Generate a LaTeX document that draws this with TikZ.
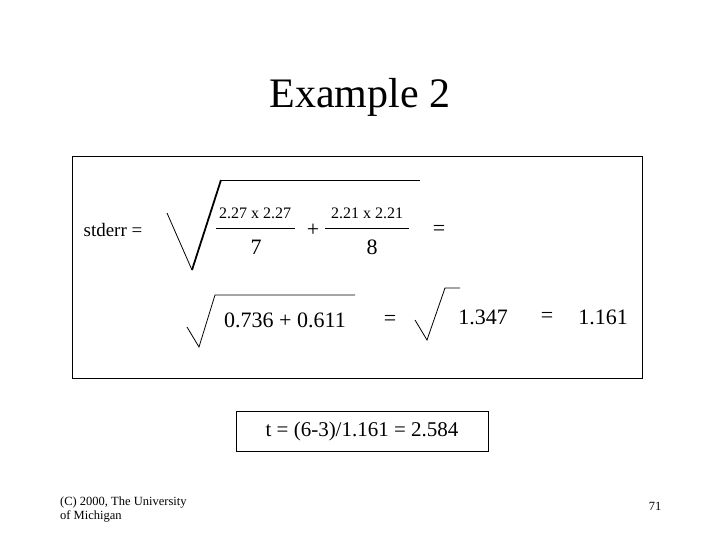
\documentclass[tikz,border=0pt]{standalone}
\usepackage{fontspec}
\setmainfont{Liberation Serif}
\begin{document}
\begin{tikzpicture}[x=1pt,y=-1pt,
  txt/.style={inner sep=0pt,font=\fontsize{22}{24}\selectfont},
  sm/.style={inner sep=0pt,font=\fontsize{16}{18}\selectfont},
  rad/.style={line width=0.8pt},
  radthick/.style={line width=1.8pt}]
\useasboundingbox (0,0) rectangle (720,540);
\node[inner sep=0pt,font=\fontsize{42}{46}\selectfont] (title) at (360,97) {Example 2};
\node[draw,line width=0.8pt,minimum width=570pt,minimum height=222pt,inner sep=0pt] (box) at (357,267) {};
\node[sm,font=\fontsize{19}{21}\selectfont] (lhs) at (113,230) {stderr =};
% big radical
\coordinate (r1a) at (167,213); \coordinate (r1b) at (192,270);
\coordinate (r1c) at (221,180); \coordinate (r1d) at (420,180);
\draw[rad] (r1a) -- (r1b); \draw[radthick] (r1b) -- (r1c); \draw[rad] (r1c) -- (r1d);
\node[sm] (n1) at (255,213) {2.27 x 2.27};
\node[sm] (n2) at (367,213) {2.21 x 2.21};
\draw[rad] (216,228) -- (295,228);
\draw[rad] (325,228) -- (409,228);
\node[txt] (d1) at (256,247) {7};
\node[txt] (d2) at (372,247) {8};
\node[txt] (plus) at (313,230) {+};
\node[txt] (eq1) at (439,230) {=};
% second radical
\coordinate (r2a) at (187,327); \coordinate (r2b) at (199,347);
\coordinate (r2c) at (215,295); \coordinate (r2d) at (355,295);
\draw[rad] (r2a) -- (r2b) -- (r2c) -- (r2d);
\node[txt] (s1) at (285,320) {0.736 + 0.611};
\node[txt] (eq2) at (390,320) {=};
\coordinate (r3a) at (415,320); \coordinate (r3b) at (427,340);
\coordinate (r3c) at (445,288); \coordinate (r3d) at (460,288);
\draw[rad] (r3a) -- (r3b) -- (r3c) -- (r3d);
\node[txt] (v1) at (483,317) {1.347};
\node[txt] (eq3) at (547,317) {=};
\node[txt] (v2) at (603,317) {1.161};
\node[draw,line width=0.8pt,minimum width=252pt,minimum height=40pt,inner sep=0pt,font=\fontsize{21}{23}\selectfont] (t) at (362,431) {t = (6-3)/1.161 = 2.584};
\node[inner sep=0pt,align=left,anchor=north west,font=\fontsize{12.5}{14}\selectfont] (foot) at (60,497) {(C) 2000, The University\\of Michigan};
\node[inner sep=0pt,font=\fontsize{12.5}{14}\selectfont] (pg) at (655,506) {71};
\end{tikzpicture}
\end{document}
